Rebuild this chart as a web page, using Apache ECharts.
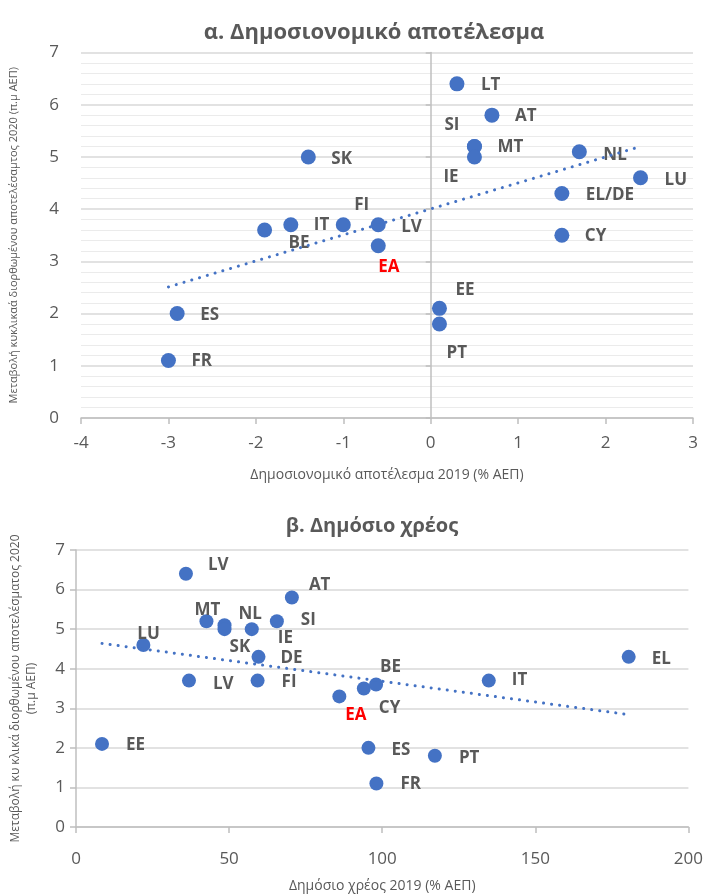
<!DOCTYPE html>
<html>
<head>
<meta charset="utf-8">
<script src="https://cdn.jsdelivr.net/npm/echarts@6/dist/echarts.min.js"></script>
<style>
html,body{margin:0;padding:0;background:#fff;}
#chart{width:706px;height:894px;}
</style>
</head>
<body>
<div id="chart"></div>
<script>
// ---- Chart α: fiscal balance 2019 vs change in cyclically adjusted balance 2020
const titleA = 'α. Δημοσιονομικό αποτέλεσμα';
const xNameA = 'Δημοσιονομικό αποτέλεσμα 2019 (% ΑΕΠ)';
const yNameA = 'Μεταβολή κυκλικαά διορθωμένου αποτελέσαμτος 2020 (π.μ ΑΕΠ)';
const labelsA = ['LT','AT','SI','MT','IE','NL','LU','EL/DE','CY','LV','FI','IT','BE','SK','ES','FR','EE','PT','EA'];
const xA = [0.3, 0.7, 0.5, 0.5, 0.5, 1.7, 2.4, 1.5, 1.5, -0.6, -1.0, -1.6, -1.9, -1.4, -2.9, -3.0, 0.1, 0.1, -0.6];
const yA = [6.4, 5.8, 5.2, 5.2, 5.0, 5.1, 4.6, 4.3, 3.5, 3.7, 3.7, 3.7, 3.6, 5.0, 2.0, 1.1, 2.1, 1.8, 3.3];
const trendXA = [-3.0, 2.4];
const trendYA = [2.51, 5.2];
const xTicksA = [-4, -3, -2, -1, 0, 1, 2, 3];
const yTicks = [0, 1, 2, 3, 4, 5, 6, 7];

// ---- Chart β: public debt 2019 vs change in cyclically adjusted balance 2020
const titleB = 'β. Δημόσιο χρέος';
const xNameB = 'Δημόσιο χρέος 2019 (% ΑΕΠ)';
const yNameB = 'Μεταβολή κυ κλικά διορθωμένου αποτελέσματος 2020\n(π.μ ΑΕΠ)';
const labelsB = ['LV','AT','MT','NL','SK','IE','SI','LU','DE','LV','FI','EA','CY','BE','IT','EL','EE','ES','PT','FR'];
const xB = [35.9, 70.5, 42.6, 48.5, 48.5, 57.4, 65.6, 22.0, 59.6, 36.9, 59.3, 86.0, 94.0, 98.0, 134.8, 180.5, 8.5, 95.5, 117.2, 98.1];
const yB = [6.4, 5.8, 5.2, 5.1, 5.0, 5.0, 5.2, 4.6, 4.3, 3.7, 3.7, 3.3, 3.5, 3.6, 3.7, 4.3, 2.1, 2.0, 1.8, 1.1];
const trendXB = [8.5, 180.5];
const trendYB = [4.64, 2.84];
const xTicksB = [0, 50, 100, 150, 200];

// ---- label placement (style only): offset of label's left/middle from the marker centre
const labelOffA = [[24,1],[23,1],[-30,-21],[23,1],[-31,20],[24,3],[24,2],[24,2],[23,1],[23,2],[11,-20],[23,0],[24,13],[23,2],[23,2],[23,1],[16,-18],[7,29],[0,21]];
const labelOffB = [[22,-9],[17,-12],[-12,-11],[14,-11],[5,18],[26,9],[24,-1],[-6,-11],[22,1],[24,4],[24,2],[6,19],[15,20],[4,-17],[23,0],[23,2],[24,1],[23,2],[24,2],[24,1]];

const BLUE = '#4472C4';
const GREY = '#595959';
const FONT = '"Open Sans", "Noto Sans", sans-serif';

function pointData(labels, xs, ys, offs, size) {
  return labels.map((l, i) => ({
    value: [xs[i], ys[i]],
    name: l,
    label: {
      show: true,
      formatter: l,
      position: [size/2 + offs[i][0], size/2 + offs[i][1]],
      align: 'left',
      verticalAlign: 'middle',
      color: l === 'EA' ? '#FF0000' : GREY,
      fontWeight: 'bold',
      fontSize: 17,
      fontFamily: FONT
    }
  }));
}

const chart = echarts.init(document.getElementById('chart'), null, {renderer: 'canvas'});

const axisLabelStyle = {color: GREY, fontSize: 17, fontFamily: FONT};

const option = {
  animation: false,
  backgroundColor: '#ffffff',
  title: [
    {text: titleA, left: 369, top: 28, textAlign: 'center', textVerticalAlign: 'middle',
     textStyle: {color: GREY, fontSize: 22, fontWeight: 'bold', fontFamily: FONT}},
    {text: titleB, left: 367, top: 521, textAlign: 'center', textVerticalAlign: 'middle',
     textStyle: {color: GREY, fontSize: 20, fontWeight: 'bold', fontFamily: FONT}}
  ],
  grid: [
    {left: 79, right: 13, top: 52.5, height: 365.5, containLabel: false},
    {left: 69.3, right: 13.3, top: 550, height: 284, containLabel: false}
  ],
  xAxis: [
    {gridIndex: 0, type: 'value', min: xTicksA[0], max: xTicksA[xTicksA.length-1], interval: 1,
     name: xNameA, nameLocation: 'middle', nameGap: 50,
     nameTextStyle: {color: GREY, fontSize: 14, fontFamily: FONT},
     axisLine: {show: true, onZero: false, lineStyle: {color: '#BFBFBF', width: 1.5}},
     axisTick: {show: true, length: 6, lineStyle: {color: '#BFBFBF', width: 1.5}},
     axisLabel: Object.assign({margin: 17}, axisLabelStyle),
     splitLine: {show: false}},
    {gridIndex: 1, type: 'value', min: xTicksB[0], max: xTicksB[xTicksB.length-1], interval: 50,
     name: xNameB, nameLocation: 'middle', nameGap: 52,
     nameTextStyle: {color: GREY, fontSize: 14, fontFamily: FONT},
     axisLine: {show: true, onZero: false, lineStyle: {color: '#BFBFBF', width: 1.5}},
     axisTick: {show: true, length: 6, lineStyle: {color: '#BFBFBF', width: 1.5}},
     axisLabel: Object.assign({margin: 24}, axisLabelStyle),
     splitLine: {show: false}}
  ],
  yAxis: [
    {gridIndex: 0, type: 'value', min: yTicks[0], max: yTicks[yTicks.length-1], interval: 1,
     name: yNameA, nameLocation: 'middle', nameGap: 62, nameRotate: 90,
     nameTextStyle: {color: GREY, fontSize: 11, fontFamily: FONT},
     axisLine: {show: false, onZero: false}, axisTick: {show: false},
     axisLabel: Object.assign({margin: 22}, axisLabelStyle),
     splitLine: {show: true, lineStyle: {color: '#D9D9D9', width: 1.5}},
     minorTick: {show: false, splitNumber: 5},
     minorSplitLine: {show: true, lineStyle: {color: '#EBEBEB', width: 1.2}}},
    {gridIndex: 0, type: 'value', position: 'left', min: yTicks[0], max: yTicks[yTicks.length-1], interval: 1,
     axisLine: {show: true, onZero: true, lineStyle: {color: '#BFBFBF', width: 1.5}},
     axisTick: {show: true, length: 5, lineStyle: {color: '#BFBFBF', width: 1.5}},
     axisLabel: {show: false}, splitLine: {show: false}},
    {gridIndex: 1, type: 'value', min: yTicks[0], max: yTicks[yTicks.length-1], interval: 1,
     name: yNameB, nameLocation: 'middle', nameGap: 36, nameRotate: 90,
     nameTextStyle: {color: GREY, fontSize: 12, fontFamily: FONT, lineHeight: 16, align: 'center'},
     axisLine: {show: true, onZero: false, lineStyle: {color: '#BFBFBF', width: 1.5}},
     axisTick: {show: true, length: 6, lineStyle: {color: '#BFBFBF', width: 1.5}},
     axisLabel: Object.assign({margin: 11}, axisLabelStyle),
     splitLine: {show: true, lineStyle: {color: '#D9D9D9', width: 1.5}}}
  ],
  series: [
    {type: 'line', xAxisIndex: 0, yAxisIndex: 0, z: 3,
     data: trendXA.map((x, i) => [x, trendYA[i]]), symbol: 'none', silent: true,
     lineStyle: {color: BLUE, width: 3, type: [0.1, 8], cap: 'round'}},
    {type: 'scatter', xAxisIndex: 0, yAxisIndex: 0, z: 2, symbolSize: 15,
     itemStyle: {color: BLUE, opacity: 1},
     data: pointData(labelsA, xA, yA, labelOffA, 15)},
    {type: 'line', xAxisIndex: 1, yAxisIndex: 2, z: 3,
     data: trendXB.map((x, i) => [x, trendYB[i]]), symbol: 'none', silent: true,
     lineStyle: {color: BLUE, width: 3, type: [0.1, 8], cap: 'round'}},
    {type: 'scatter', xAxisIndex: 1, yAxisIndex: 2, z: 2, symbolSize: 14,
     itemStyle: {color: BLUE, opacity: 1},
     data: pointData(labelsB, xB, yB, labelOffB, 14)}
  ]
};
chart.setOption(option);
</script>
</body>
</html>
